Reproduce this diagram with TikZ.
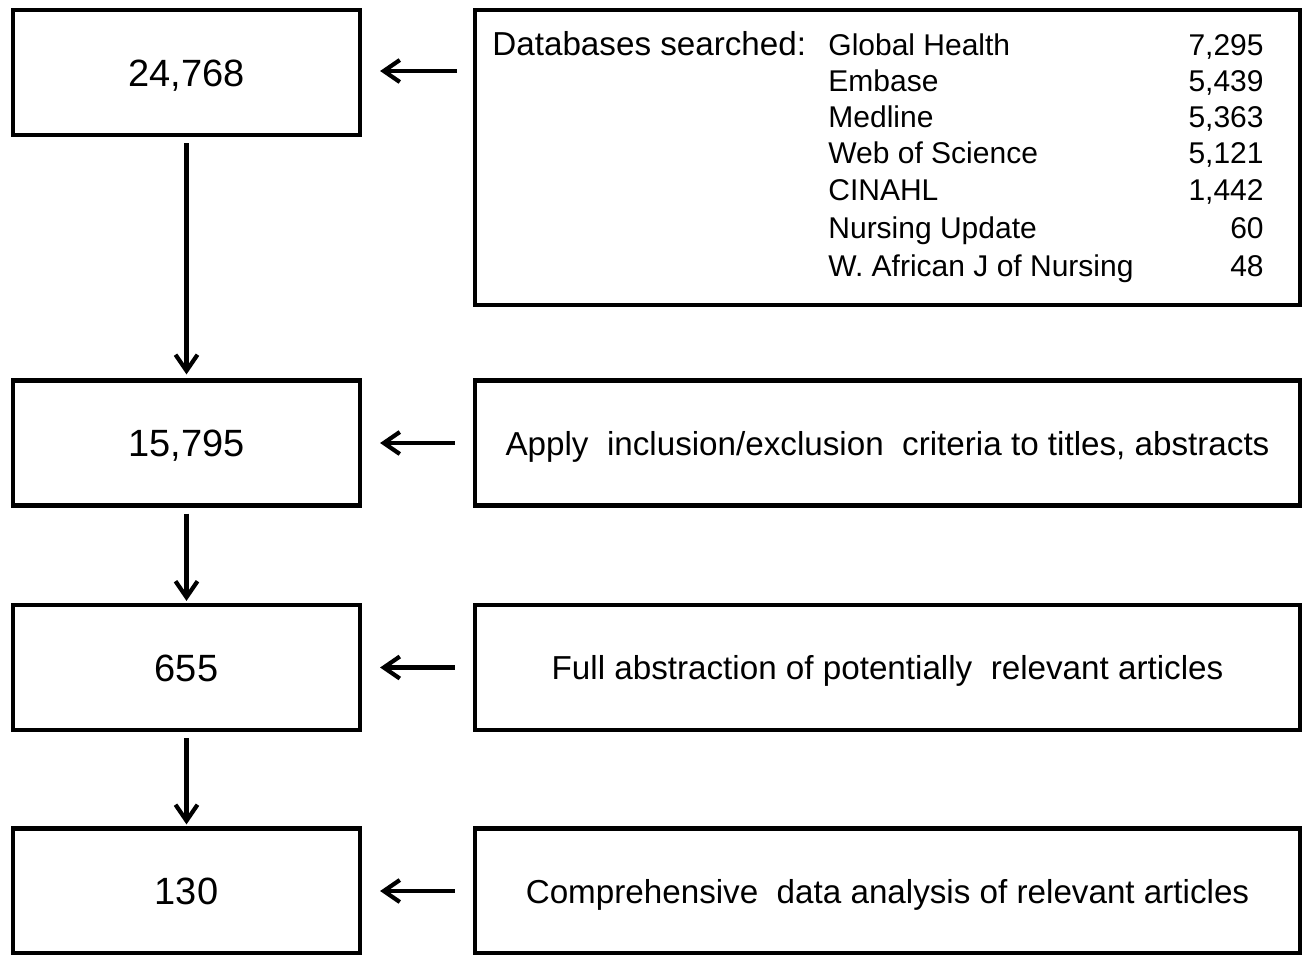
\documentclass[tikz,border=0pt]{standalone}
\usepackage{fontspec}
\setmainfont{Liberation Sans}
\usetikzlibrary{arrows.meta}
\begin{document}
\begin{tikzpicture}[x=0.5pt,y=-0.5pt,
  box/.style={draw=black,line width=2.1pt,rectangle,inner sep=0pt},
  lbox/.style={box,minimum width=173.5pt,minimum height=62.5pt,text height=13.6pt,text depth=0pt,font=\fontsize{19}{22}\selectfont},
  rbox/.style={box,minimum width=412.5pt,minimum height=62.5pt,text height=12pt,text depth=0pt,font=\fontsize{16.6}{20}\selectfont},
  dbtext/.style={inner sep=0pt,font=\fontsize{15}{18}\selectfont},
  arr/.style={line width=2.1pt,-{Straight Barb[length=8pt,width=11pt,line width=2.1pt]}}
]
\useasboundingbox (0,0) rectangle (1305,954);
% left column
\node[lbox] (b1) at (186.5,72.5) {24,768};
\node[lbox] (b2) at (186.5,443) {15,795};
\node[lbox] (b3) at (186.5,667.5) {655};
\node[lbox] (b4) at (186.5,891) {130};
% right column
\node[box,minimum width=412.5pt,minimum height=147.5pt] (r1) at (887.5,157.5) {};
\node[rbox] (r2) at (887.5,443) {Apply\ \ inclusion/exclusion\ \ criteria to titles, abstracts};
\node[rbox] (r3) at (887.5,667.5) {Full abstraction of potentially\ \ relevant articles};
\node[rbox] (r4) at (887.5,891) {Comprehensive\ \ data analysis of relevant articles};
% database list
\node[dbtext,anchor=base west,font=\fontsize{16.6}{20}\selectfont] (dbh) at (492,55) {Databases searched:};
\node[dbtext,anchor=base west] (n1) at (828,55) {Global Health};
\node[dbtext,anchor=base west] (n2) at (828,91) {Embase};
\node[dbtext,anchor=base west] (n3) at (828,127) {Medline};
\node[dbtext,anchor=base west] (n4) at (828,163) {Web of Science};
\node[dbtext,anchor=base west] (n5) at (828,200) {CINAHL};
\node[dbtext,anchor=base west] (n6) at (828,238) {Nursing Update};
\node[dbtext,anchor=base west] (n7) at (828,276) {W. African J of Nursing};
\node[dbtext,anchor=base east] (v1) at (1264,55) {7,295};
\node[dbtext,anchor=base east] (v2) at (1264,91) {5,439};
\node[dbtext,anchor=base east] (v3) at (1264,127) {5,363};
\node[dbtext,anchor=base east] (v4) at (1264,163) {5,121};
\node[dbtext,anchor=base east] (v5) at (1264,200) {1,442};
\node[dbtext,anchor=base east] (v6) at (1264,238) {60};
\node[dbtext,anchor=base east] (v7) at (1264,276) {48};
% vertical arrows
\draw[arr,shorten <=3pt,shorten >=2pt] (b1.south) -- (b2.north);
\draw[arr,shorten <=3pt,shorten >=1pt] (b2.south) -- (b3.north);
\draw[arr,shorten <=3pt,shorten >=1pt] (b3.south) -- (b4.north);
% horizontal arrows
\coordinate (a1) at (475,71);
\draw[arr,shorten <=9pt,shorten >=9pt] (a1) -- (a1 -| b1.east);
\draw[arr,shorten <=9pt,shorten >=9pt] (r2.west) -- (b2.east);
\draw[arr,shorten <=9pt,shorten >=9pt] (r3.west) -- (b3.east);
\draw[arr,shorten <=9pt,shorten >=9pt] (r4.west) -- (b4.east);
\end{tikzpicture}
\end{document}
